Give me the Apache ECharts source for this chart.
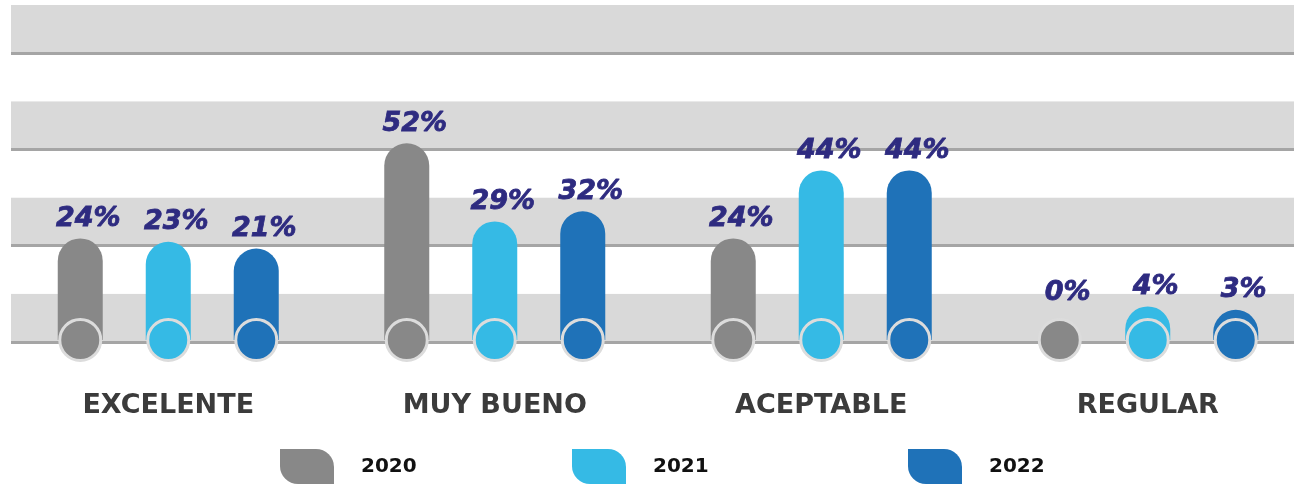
<!DOCTYPE html>
<html>
<head>
<meta charset="utf-8">
<script src="https://cdn.jsdelivr.net/npm/echarts@6/dist/echarts.min.js"></script>
<style>
  html, body { margin: 0; padding: 0; background: #fff; }
  #main { width: 1294px; height: 487px; }
</style>
</head>
<body>
<div id="main"></div>
<script>
const categories = ['EXCELENTE', 'MUY BUENO', 'ACEPTABLE', 'REGULAR'];
const years = ['2020', '2021', '2022'];
const values2020 = [24, 52, 24, 0];
const values2021 = [23, 29, 44, 4];
const values2022 = [21, 32, 44, 3];
const colors = ['#888888', '#35bae5', '#1f72b8'];

const legendIcon = 'path://M0,0 L36,0 A18,18 0 0 1 54,18 L54,35 L18,35 A18,18 0 0 1 0,17 Z';

function barRenderer(offset, color) {
  return function (params, api) {
    const v = api.value(1);
    const top = api.coord([api.value(0), v]);
    const zero = api.coord([api.value(0), 0]);
    const x = top[0] + offset;
    const baseY = zero[1] + 20;
    const children = [];
    if (v > 0) {
      children.push({
        type: 'rect',
        shape: { x: x - 22.5, y: top[1], width: 45, height: baseY - top[1], r: [22.5, 22.5, 0, 0] },
        style: { fill: color }
      });
    }
    children.push({
      type: 'circle',
      shape: { cx: x, cy: baseY, r: 20.5 },
      style: { fill: color, stroke: '#dcdcdc', lineWidth: 3 }
    });
    children.push({
      type: 'text',
      x: x + 8,
      y: (v > 0 ? top[1] - 6 : baseY - 34),
      style: {
        text: v + '%',
        fill: '#2e2b80',
        stroke: '#2e2b80',
        lineWidth: 0.8,
        font: 'italic bold 27px "DejaVu Sans"',
        align: 'center',
        verticalAlign: 'bottom'
      }
    });
    return { type: 'group', children: children };
  };
}

const chart = echarts.init(document.getElementById('main'));
const seriesValues = [values2020, values2021, values2022];
const offsets = [-88, 0, 88];

chart.setOption({
  animation: false,
  grid: [
    { left: 5, top: 48, width: 1306, bottom: 167, outerBoundsMode: 'none' },
    { left: 11, right: 0, top: 5, bottom: 145, outerBoundsMode: 'none' }
  ],
  xAxis: [
    {
      type: 'category',
      data: categories,
      gridIndex: 0,
      axisLine: { show: false },
      axisTick: { show: false },
      axisLabel: {
        margin: 72,
        color: '#3b3b3b',
        fontFamily: 'DejaVu Sans',
        fontWeight: 'bold',
        fontSize: 27
      }
    },
    { type: 'value', gridIndex: 1, show: false, min: 0, max: 1 }
  ],
  yAxis: [
    { type: 'value', gridIndex: 0, min: 0, max: 80, show: false, splitLine: { show: false } },
    {
      type: 'value',
      gridIndex: 1,
      min: 0,
      max: 7,
      interval: 1,
      axisLine: { show: false },
      axisTick: { show: false },
      axisLabel: { show: false },
      splitArea: { show: true, areaStyle: { color: ['#d9d9d9', '#ffffff'] } },
      splitLine: { show: true, lineStyle: { color: ['#a5a5a5', 'rgba(0,0,0,0)'], width: 3 } }
    }
  ],
  legend: years.map(function (y, i) {
    return {
      data: [{ name: y, icon: legendIcon }],
      left: [280, 572, 908][i],
      top: 449,
      padding: 0,
      itemWidth: 54,
      itemHeight: 35,
      textStyle: {
        color: '#111',
        fontFamily: 'DejaVu Sans',
        fontWeight: 'bold',
        fontSize: 20,
        padding: [0, 0, 0, 22]
      }
    };
  }),
  series: years.map(function (y, i) {
    return {
      name: y,
      type: 'custom',
      xAxisIndex: 0,
      yAxisIndex: 0,
      itemStyle: { color: colors[i] },
      renderItem: barRenderer(offsets[i], colors[i]),
      encode: { x: 0, y: 1 },
      data: categories.map(function (c, j) { return [c, seriesValues[i][j]]; })
    };
  })
});
</script>
</body>
</html>
